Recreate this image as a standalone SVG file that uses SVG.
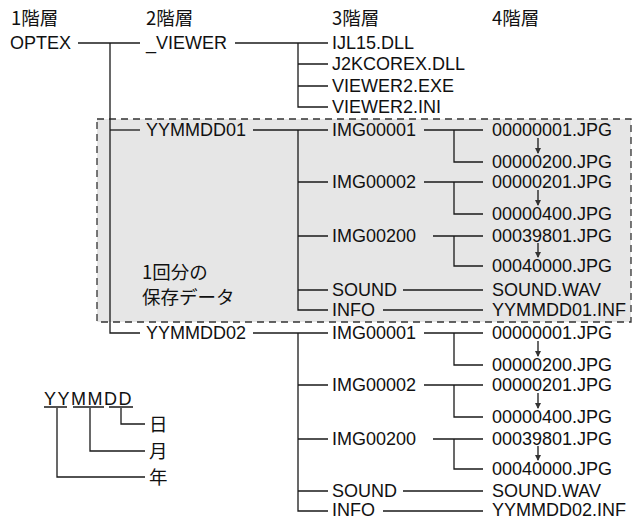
<svg xmlns="http://www.w3.org/2000/svg" width="634" height="520" viewBox="0 0 634 520">
<style>
text{font-family:"Liberation Sans","Noto Sans CJK JP",sans-serif;font-size:18px;fill:#111}
.j{font-family:"Noto Sans CJK JP","Liberation Sans",sans-serif;font-size:18.5px}
.c path,.c line{stroke:#1a1a1a;stroke-width:1.3;fill:none}
.a{stroke:#333;stroke-width:1;marker-end:url(#ah)}
</style>
<defs>
<marker id="ah" markerWidth="6" markerHeight="6" refX="5" refY="3" orient="auto" markerUnits="userSpaceOnUse"><path d="M0,0 L6,3 L0,6 Z" fill="#333"/></marker>
</defs>
<rect id="group-box" x="97" y="119" width="534" height="203" fill="#e6e6e6" stroke="#333" stroke-width="1.3" stroke-dasharray="7,5"/>
<g id="headers">
<text class="j" x="11" y="25">1階層</text>
<text class="j" x="146" y="25">2階層</text>
<text class="j" x="332" y="25">3階層</text>
<text class="j" x="492" y="25">4階層</text>
</g>
<g id="optex"><text x="10" y="49">OPTEX</text></g>
<g id="viewer"><text x="146" y="49">_VIEWER</text></g>
<g id="ijl"><text x="332" y="49">IJL15.DLL</text></g>
<g id="j2k"><text x="332" y="70">J2KCOREX.DLL</text></g>
<g id="vexe"><text x="332" y="92">VIEWER2.EXE</text></g>
<g id="vini"><text x="332" y="113">VIEWER2.INI</text></g>
<g id="ymd01"><text x="146" y="136">YYMMDD01</text></g>
<g id="ymd02"><text x="146" y="339">YYMMDD02</text></g>
<g id="note"><text class="j" x="142" y="279">1回分の</text><text class="j" x="142" y="304">保存データ</text></g>
<g id="g1">
<text x="332" y="136">IMG00001</text>
<text x="332" y="188">IMG00002</text>
<text x="332" y="242">IMG00200</text>
<text x="332" y="296">SOUND</text>
<text x="332" y="316">INFO</text>
<text x="492" y="136">00000001.JPG</text>
<text x="492" y="168">00000200.JPG</text>
<text x="492" y="188">00000201.JPG</text>
<text x="492" y="220">00000400.JPG</text>
<text x="492" y="242">00039801.JPG</text>
<text x="492" y="272">00040000.JPG</text>
<text x="492" y="296">SOUND.WAV</text>
<text x="492" y="316">YYMMDD01.INF</text>
</g>
<g id="g2">
<text x="332" y="339">IMG00001</text>
<text x="332" y="391">IMG00002</text>
<text x="332" y="445">IMG00200</text>
<text x="332" y="497">SOUND</text>
<text x="332" y="516">INFO</text>
<text x="492" y="339">00000001.JPG</text>
<text x="492" y="371">00000200.JPG</text>
<text x="492" y="391">00000201.JPG</text>
<text x="492" y="423">00000400.JPG</text>
<text x="492" y="445">00039801.JPG</text>
<text x="492" y="475">00040000.JPG</text>
<text x="492" y="497">SOUND.WAV</text>
<text x="492" y="516">YYMMDD02.INF</text>
</g>
<g id="legend">
<text x="44" y="405" letter-spacing="1.5">YYMMDD</text>
<text class="j" x="149" y="431">日</text>
<text class="j" x="149" y="458">月</text>
<text class="j" x="149" y="484">年</text>
</g>
<g id="connectors" class="c">
<line x1="78" y1="43" x2="140" y2="43"/>
<path d="M110,43 V333 H140"/>
<line x1="110" y1="130" x2="140" y2="130"/>
<line x1="235" y1="43" x2="328" y2="43"/>
<path d="M298,43 V107 H328 M298,64 H328 M298,86 H328"/>
<line x1="253" y1="130" x2="328" y2="130"/>
<path d="M298,130 V310 H328 M298,182 H328 M298,236 H328 M298,290 H328"/>
<path d="M424,130 H483 M454,130 V162 H483"/>
<path d="M424,182 H483 M454,182 V214 H483"/>
<path d="M433,236 H483 M454,236 V266 H483"/>
<path d="M403,290 H483 M383,310 H483"/>
<line x1="253" y1="333" x2="328" y2="333"/>
<path d="M298,333 V511 H328 M298,385 H328 M298,439 H328 M298,491 H328"/>
<path d="M424,333 H483 M454,333 V365 H483"/>
<path d="M424,385 H483 M454,385 V417 H483"/>
<path d="M433,439 H483 M454,439 V469 H483"/>
<path d="M403,491 H483 M383,511 H483"/>
<path d="M44,407 H67 M73,407 H104 M109,407 H133" stroke-width="1.2"/>
<path d="M57,408 V477 H145 M90,408 V451 H145 M121,408 V424 H145"/>
<line class="a" x1="538" y1="138" x2="538" y2="153"/>
<line class="a" x1="538" y1="190" x2="538" y2="205"/>
<line class="a" x1="538" y1="243" x2="538" y2="257"/>
<line class="a" x1="538" y1="341" x2="538" y2="356"/>
<line class="a" x1="538" y1="393" x2="538" y2="408"/>
<line class="a" x1="538" y1="446" x2="538" y2="460"/>
</g>
</svg>
